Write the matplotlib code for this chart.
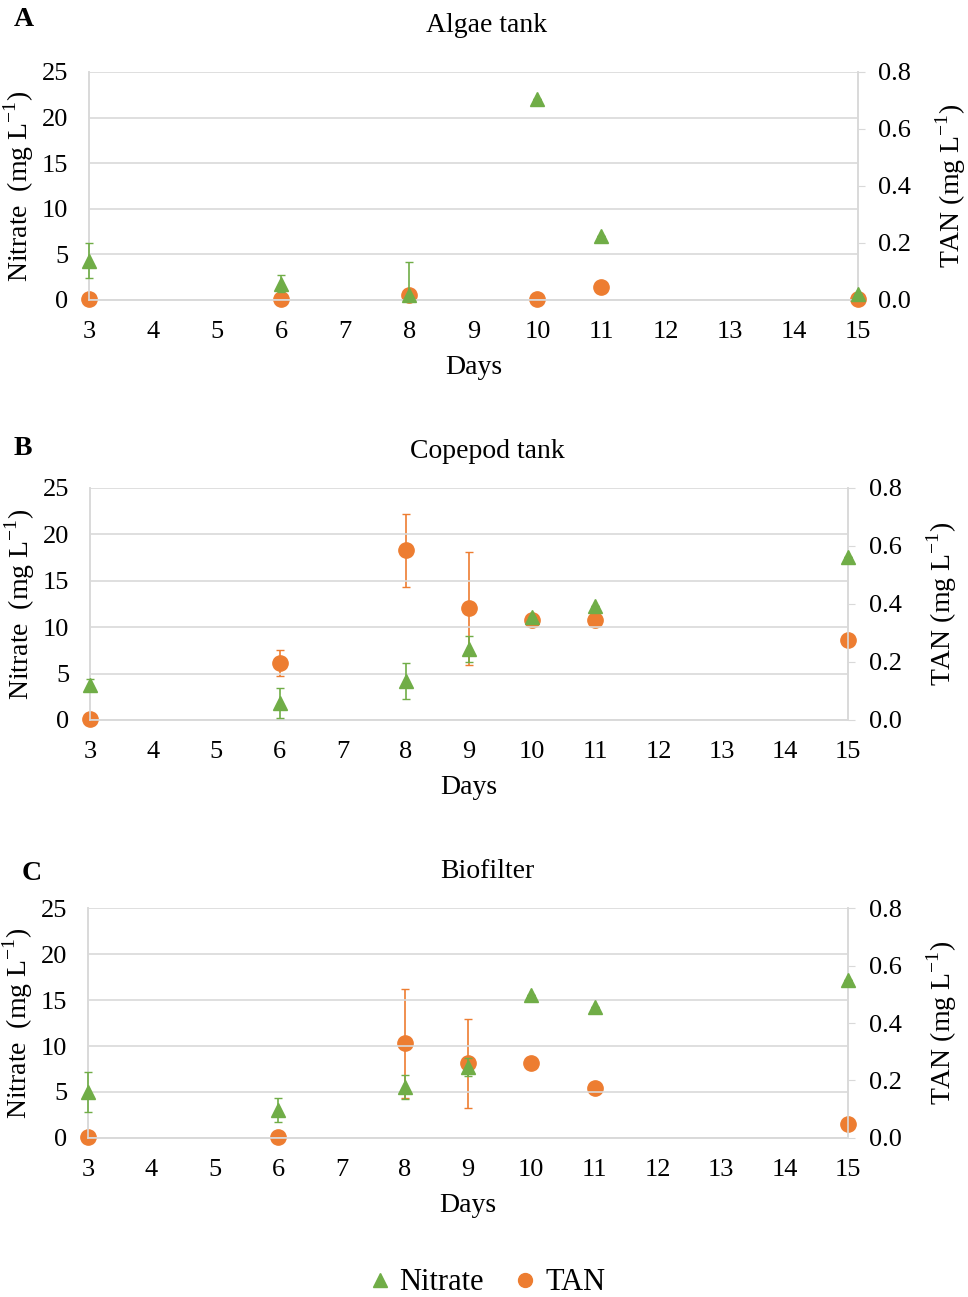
import numpy as np
import matplotlib.pyplot as plt

plt.rcParams['font.family'] = ['Liberation Serif', 'DejaVu Serif']
plt.rcParams['mathtext.fontset'] = 'custom'
plt.rcParams['mathtext.rm'] = 'Liberation Serif'

# panel data
titles = ["Algae tank", "Copepod tank", "Biofilter"]
letters = ["A", "B", "C"]

days_a = [3, 6, 8, 10, 11, 15]
nitrate_a = [4.3, 1.8, 0.5, 22.0, 7.0, 0.7]
nitrate_lo_a = [1.9, 0.9, 0.5, 0, 0, 0]
nitrate_hi_a = [1.9, 0.9, 3.7, 0, 0, 0]
tan_a = [0.005, 0.005, 0.018, 0.005, 0.045, 0.005]
tan_err_a = [0, 0, 0, 0, 0, 0]

days_b = [3, 6, 8, 9, 10, 11, 15]
nitrate_b = [3.8, 1.8, 4.2, 7.6, 11.1, 12.3, 17.6]
nitrate_lo_b = [0.6, 1.6, 1.9, 1.4, 0, 0, 0]
nitrate_hi_b = [0.6, 1.6, 1.9, 1.4, 0, 0, 0]
tan_b = [0.005, 0.195, 0.585, 0.385, 0.345, 0.345, 0.275]
tan_err_b = [0, 0.045, 0.125, 0.195, 0, 0, 0]

days_c = [3, 6, 8, 9, 10, 11, 15]
nitrate_c = [5.0, 3.0, 5.5, 7.7, 15.5, 14.2, 17.2]
nitrate_lo_c = [2.2, 1.3, 1.3, 1.0, 0, 0, 0]
nitrate_hi_c = [2.2, 1.3, 1.3, 1.0, 0, 0, 0]
tan_c = [0.005, 0.005, 0.33, 0.26, 0.26, 0.175, 0.05]
tan_err_c = [0, 0, 0.19, 0.155, 0, 0, 0]

panels = [
    (days_a, nitrate_a, nitrate_lo_a, nitrate_hi_a, tan_a, tan_err_a),
    (days_b, nitrate_b, nitrate_lo_b, nitrate_hi_b, tan_b, tan_err_b),
    (days_c, nitrate_c, nitrate_lo_c, nitrate_hi_c, tan_c, tan_err_c),
]

# axes boxes in figure fraction
boxes = [
    [0.092, 0.7687, 0.794, 0.1758],
    [0.093, 0.4449, 0.783, 0.1789],
    [0.091, 0.1226, 0.785, 0.1773],
]
# pixel positions of titles and panel letters
W, H = 968, 1297
title_y = [25, 452, 872]
letter_xy = [(14, 20), (14, 448), (22, 873)]

green = '#70AD47'
orange = '#ED7D31'
grid_c = '#D9D9D9'
fs = 19

fig = plt.figure(figsize=(9.68, 12.97), dpi=100)

for i, (days, nit, nit_lo, nit_hi, tan, tan_err) in enumerate(panels):
    ax = fig.add_axes(boxes[i])
    ax2 = ax.twinx()

    ax.set_xlim(3, 15)
    ax.set_ylim(0, 25)
    ax2.set_ylim(0, 0.8)
    ax.set_xticks(range(3, 16))
    ax.set_yticks(range(0, 26, 5))
    ax2.set_yticks(np.arange(0, 0.81, 0.2))
    ax2.set_yticklabels([f"{v:.1f}" for v in np.arange(0, 0.81, 0.2)])

    ax.grid(axis='y', color=grid_c, lw=1.2)
    ax.set_axisbelow(True)
    for a in (ax, ax2):
        a.spines['top'].set_visible(False)
        for s in ('left', 'right', 'bottom'):
            a.spines[s].set_color(grid_c)
            a.spines[s].set_linewidth(1.2)
    ax.tick_params(axis='x', length=0, labelsize=fs, pad=15)
    ax.tick_params(axis='y', length=0, labelsize=fs, pad=15)
    ax2.tick_params(axis='y', length=5, color=grid_c, labelsize=fs, pad=10)

    # TAN on secondary axis, Nitrate on primary
    ax2.errorbar(days, tan, yerr=tan_err, fmt='o', color=orange, ms=11,
                 ecolor=orange, elinewidth=1.2, capsize=3, clip_on=False, zorder=3)
    ax.errorbar(days, nit, yerr=[nit_lo, nit_hi], fmt='^', color=green, ms=10,
                ecolor=green, elinewidth=1.2, capsize=3, clip_on=False, zorder=3)
    ax.set_zorder(ax2.get_zorder() + 1)
    ax.patch.set_visible(False)

    ax.set_xlabel("Days", fontsize=fs + 1, labelpad=9)
    ax.set_ylabel("Nitrate  (mg L$^{-1}$)", fontsize=fs + 1, labelpad=4)
    ax2.set_ylabel("TAN (mg L$^{-1}$)", fontsize=fs + 1, rotation=90, labelpad=16)

    fig.text(487 / W, 1 - title_y[i] / H, titles[i], fontsize=fs + 1,
             ha='center', va='center')
    lx, ly = letter_xy[i]
    fig.text(lx / W, 1 - ly / H, letters[i], fontsize=fs + 1, fontweight='bold',
             ha='left', va='center')

handles = [
    plt.Line2D([], [], marker='^', color=green, ls='none', ms=10),
    plt.Line2D([], [], marker='o', color=orange, ls='none', ms=10),
]
fig.legend(handles, ["Nitrate", "TAN"], loc='center', bbox_to_anchor=(0.5, 0.011),
           ncol=2, frameon=False, fontsize=fs + 3, handletextpad=0.1,
           columnspacing=0.8, handlelength=1.1)

fig.savefig("out.png", dpi=100)
